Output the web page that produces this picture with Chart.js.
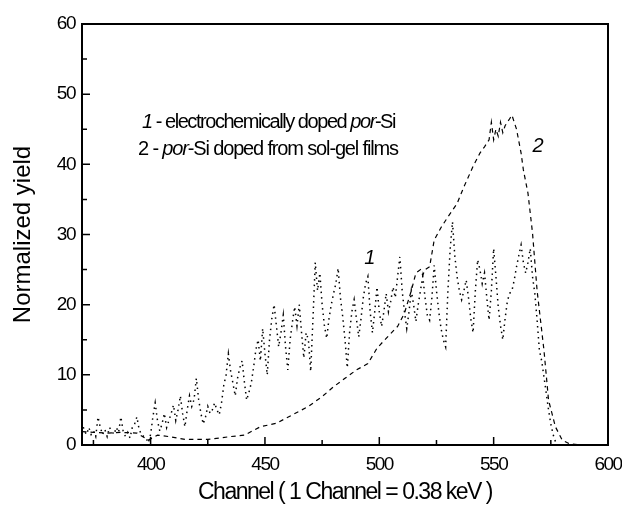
<!DOCTYPE html>
<html><head><meta charset="utf-8">
<script src="https://cdn.jsdelivr.net/npm/chart.js@4.4.1/dist/chart.umd.min.js"></script>
<style>html,body{margin:0;padding:0;background:#fff}</style>
</head><body>
<canvas id="c" width="622" height="512"></canvas>
<script>
// ---- Data ----
// Curve 1: electrochemically doped por-Si (one value per channel, starting at channel 370)
const series1StartChannel = 370;
const series1Values = [
 3.3,2,1.5,2.5,1.5,2,1.2,4,2.5,1.5,           // 370-379
 2.2,1.2,2.5,2,1.5,2.5,1.8,4,2,1.2,           // 380-389
 1.8,1,2.5,3,4,2.2,1.5,1.2,1,0.3,             // 390-399
 1.5,4,6,3.5,2,3,4.5,2.5,3.5,4.5,             // 400-409
 5.7,3.5,5,7,4.5,2.6,5,7,5.5,6.5,             // 410-419
 9.5,6.5,4.5,3,4,5.5,4.5,5,6,5,               // 420-429
 4.3,6,8.5,10,13,10.5,8.8,7,9.5,11,           // 430-439
 12,9,6.4,7.5,8.8,11,13.5,15,12,16.6,         // 440-449
 13,10,15,18,20,17,14,16,18.5,14,             // 450-459
 10.7,15,17.5,19.7,17,20,16,12.4,16,15,       // 460-469
 10.5,18,26,22,24.5,20,17,15.2,18,20,         // 470-479
 21.6,23,25.2,21,18.3,15,11,16,19,20.7,       // 480-489
 18,15.4,18,21,23,24,19,16,19,22.5,           // 490-499
 19,16.9,19,21.6,19,20.5,22.5,21,24,26.8,     // 500-509
 22,19,16.6,19,22,20,17.6,20,22,24,           // 510-519
 21,18.5,17.8,21,25.6,22,19,16.6,15,14,       // 520-529
 22,28,31.8,27,24,22,20.7,22,23.5,21,         // 530-539
 18,16,22,26.4,25,23,24.5,21,17.8,22,         // 540-549
 28,24,19.7,17,15,18,20.5,21.6,22,23.5,       // 550-559
 25.4,27,28.5,26,24.5,26,28,24,21.6,17.8,     // 560-569
 13.5,12,9.7,7.4,5,3,1.5,0.5                  // 570-577
];
// Curve 2: por-Si doped from sol-gel films
const series2Channels = [370,375,381,387,394,399,403,408,415,420,425,430,435,441,448,455,462,469,475,480,485,490,495,499,503,508,511,514,516,518,519,520,522,524,527,530,534,537,541,544,546,548,549,550,551,552,553,554,555,556,557,558,559,560,562,563,565,567,569,572,574,577,580,583,588,595,600];
const series2Values   = [1.9,1.8,1.7,1.8,1.7,0.7,1.4,1.2,0.8,0.8,0.8,1.0,1.2,1.4,2.6,3.1,4.3,5.5,6.9,8.3,9.5,10.7,11.6,13.8,15.2,16.9,18.8,22,24.5,25,24.2,25,25.4,29.2,31,32.5,34.4,36.8,39.7,41.6,42.5,43.5,46,43.5,45,44,46,44.5,45.5,46,46.5,47,46,45,41.6,39.2,35.9,30.2,22,13.5,6.4,2.6,0.7,0.2,0,0,0];
// Axis ticks
const xTickValues = [400,450,500,550,600];
const xMinorTickValues = [375,425,475,525,575];
const yTickValues = [0,10,20,30,40,50,60];
const yMinorTickValues = [5,15,25,35,45,55];
// Texts
const xTitle = 'Channel ( 1 Channel = 0.38 keV )';
const yTitle = 'Normalized yield';
const legendLines = [
  [{t:'1',i:true},{t:' - electrochemically doped ',i:false},{t:'por',i:true},{t:'-Si',i:false}],
  [{t:'2 - ',i:false},{t:'por',i:true},{t:'-Si doped from sol-gel films',i:false}]
];
const legendAnchors = [{x:396.2,y:45.2,sp:'-1.45px'},{x:394.5,y:41.3,sp:'-1.15px'}];
const curveLabels = [{text:'1',x:495.9,y:26.6},{text:'2',x:569.4,y:42.5}];

// ---- Build ----
const pts1 = series1Values.map((v,i)=>({x:series1StartChannel+i,y:v}));
const pts2 = series2Channels.map((c,i)=>({x:c,y:series2Values[i]}));
const FONT = "'Liberation Sans',Arial,sans-serif";
const TIGHT = '-1.5px';

const spacingPlugin = {
  id:'spacing',
  beforeUpdate(chart){ chart.ctx.letterSpacing = TIGHT; },
  beforeDraw(chart){ chart.ctx.letterSpacing = TIGHT; }
};

const framePlugin = {
  id:'frame',
  afterDatasetsDraw(chart){
    const {ctx, chartArea:a, scales:{x,y}} = chart;
    ctx.save();
    ctx.strokeStyle='#000';
    ctx.lineWidth=1.5;
    ctx.setLineDash([]);
    ctx.beginPath();
    xTickValues.forEach(v=>{const p=x.getPixelForValue(v); ctx.moveTo(p,a.bottom); ctx.lineTo(p,a.bottom-8);});
    xMinorTickValues.forEach(v=>{const p=x.getPixelForValue(v); ctx.moveTo(p,a.bottom); ctx.lineTo(p,a.bottom-5);});
    yTickValues.forEach(v=>{const p=y.getPixelForValue(v); ctx.moveTo(a.left,p); ctx.lineTo(a.left+8,p);});
    yMinorTickValues.forEach(v=>{const p=y.getPixelForValue(v); ctx.moveTo(a.left,p); ctx.lineTo(a.left+5,p);});
    ctx.stroke();
    ctx.lineWidth=2;
    ctx.strokeRect(a.left,a.top,a.right-a.left,a.bottom-a.top);
    // legend text
    ctx.fillStyle='#000';
    ctx.textBaseline='alphabetic';
    ctx.textAlign='left';
    legendLines.forEach((line,li)=>{
      let px = x.getPixelForValue(legendAnchors[li].x);
      const py = y.getPixelForValue(legendAnchors[li].y);
      ctx.letterSpacing = legendAnchors[li].sp;
      line.forEach(seg=>{
        ctx.font = (seg.i?'italic ':'')+'20px '+FONT;
        ctx.fillText(seg.t,px,py);
        px += ctx.measureText(seg.t).width;
      });
    });
    ctx.letterSpacing='0px';
    ctx.textAlign='center';
    ctx.textBaseline='middle';
    ctx.font='italic 20px '+FONT;
    curveLabels.forEach(l=>ctx.fillText(l.text,x.getPixelForValue(l.x),y.getPixelForValue(l.y)));
    // y-axis title (rotated, normal spacing)
    ctx.font='24px '+FONT;
    ctx.translate(23,(a.top+a.bottom)/2);
    ctx.rotate(-Math.PI/2);
    ctx.fillText(yTitle,0,0);
    ctx.restore();
  }
};

new Chart(document.getElementById('c'),{
  type:'scatter',
  data:{datasets:[
    {data:pts1,showLine:true,borderColor:'#000',borderWidth:1.5,borderDash:[1.5,4],pointRadius:0,tension:0,fill:false},
    {data:pts2,showLine:true,borderColor:'#000',borderWidth:1.2,borderDash:[4.5,4],pointRadius:0,tension:0,fill:false}
  ]},
  options:{
    responsive:false,animation:false,devicePixelRatio:1,
    layout:{padding:{top:24,right:14,left:0,bottom:0}},
    plugins:{legend:{display:false},tooltip:{enabled:false}},
    scales:{
      x:{type:'linear',min:370,max:600,
        afterBuildTicks(s){s.ticks=xTickValues.map(v=>({value:v}));},
        afterFit(s){s.height=67;s.paddingLeft=0;s.paddingRight=0;},
        grid:{display:false,drawTicks:false},border:{display:false},
        ticks:{padding:8,color:'#000',font:{family:FONT,size:19},maxRotation:0,autoSkip:false},
        title:{display:true,text:xTitle,color:'#000',font:{family:FONT,size:23},padding:{top:0,bottom:6}}
      },
      y:{type:'linear',min:0,max:60,
        afterBuildTicks(s){s.ticks=yTickValues.map(v=>({value:v}));},
        afterFit(s){s.width=82;s.paddingTop=0;s.paddingBottom=0;},
        grid:{display:false,drawTicks:false},border:{display:false},
        ticks:{padding:7,color:'#000',font:{family:FONT,size:19},autoSkip:false},
        title:{display:false,text:yTitle}
      }
    }
  },
  plugins:[spacingPlugin,framePlugin]
});
</script>
</body></html>
